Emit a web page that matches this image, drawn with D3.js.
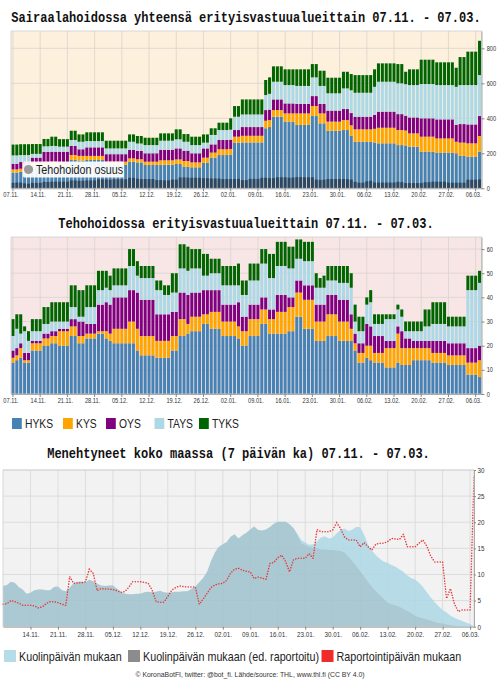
<!DOCTYPE html>
<html><head><meta charset="utf-8">
<script src="https://cdn.jsdelivr.net/npm/d3@7/dist/d3.min.js"></script>
<style>
html,body{margin:0;padding:0;background:#fff;}
svg{display:block;}
</style></head>
<body>
<svg id="chart" width="501" height="680"></svg>
<script>
// ---------------- data ----------------
const regions = ["HYKS","KYS","OYS","TAYS","TYKS"];
const regionColors = ["steelblue","orange","purple","lightblue","darkgreen"];

const hospHYKS = [90,90,95,95,95,125,125,125,130,130,
130,130,130,130,130,162,162,158,158,162,
162,162,162,162,135,135,135,135,135,135,
152,152,148,148,133,133,133,133,135,135,
135,135,139,139,124,124,120,120,120,146,
146,175,175,190,190,190,192,261,261,262,
262,262,262,262,262,343,350,409,409,409,
381,381,381,362,362,362,362,413,413,371,
371,329,329,329,329,333,333,300,266,266,
266,266,266,262,257,257,257,257,257,247,
247,245,238,238,238,209,209,209,209,204,
204,204,204,204,200,185,185,181,181,181,
209];
const hospKYS = [18,18,17,17,17,20,20,20,20,20,
22,22,20,20,20,28,28,27,27,23,
23,23,23,23,17,17,17,17,17,17,
19,19,18,18,19,19,19,19,25,25,
25,25,26,26,32,32,28,28,28,29,
29,29,29,33,33,33,33,34,34,38,
38,38,38,38,38,43,40,38,38,38,
47,47,47,66,66,66,66,57,57,57,
57,52,52,52,52,57,57,60,71,71,
71,71,71,78,89,89,89,89,89,86,
86,85,76,76,76,86,86,86,86,81,
81,81,81,81,66,76,76,76,76,76,
90];
const hospOYS = [32,32,38,38,38,30,30,30,58,58,
57,57,59,59,59,52,52,38,38,49,
49,49,49,49,43,43,43,43,43,43,
48,48,48,48,48,48,48,48,60,60,
60,60,63,63,59,59,52,52,52,53,
53,47,47,53,53,53,53,38,38,50,
50,50,50,50,50,61,60,61,61,61,
57,57,57,54,54,54,54,57,57,54,
54,63,63,63,63,63,63,70,72,72,
72,72,72,80,92,92,92,92,92,91,
91,85,91,91,91,105,105,105,105,109,
109,109,109,109,96,106,106,108,108,108,
114];
const hospTAYS = [48,48,40,40,40,22,22,22,32,32,
33,33,29,29,29,34,34,43,43,36,
36,36,36,36,33,33,33,33,33,33,
47,47,42,42,47,47,47,47,52,52,
52,52,52,52,51,51,47,47,47,33,
33,54,54,57,57,57,57,76,76,72,
72,72,72,72,72,86,90,101,101,101,
105,105,105,103,103,103,103,107,107,103,
103,99,99,99,99,118,118,130,137,137,
137,137,137,160,171,171,171,171,171,176,
176,180,185,185,185,196,196,196,196,196,
196,196,196,196,218,223,223,225,225,225,
234];
const hospTYKS = [62,62,62,62,62,56,56,56,42,42,
53,53,43,43,43,53,53,42,42,50,
50,50,50,50,44,44,44,44,44,44,
42,42,43,43,42,42,42,42,42,42,
42,42,57,57,44,44,48,48,48,47,
47,38,38,42,42,42,65,61,61,86,
86,86,86,86,86,86,94,88,88,88,
90,90,90,95,95,95,95,76,76,87,
87,89,89,89,89,95,95,93,101,101,
101,101,101,100,105,105,105,105,105,110,
110,71,90,90,90,139,139,139,139,130,
130,130,130,130,109,160,160,191,191,191,
196];

const icuHYKS = [13,14,15,13,13,18,18,18,20,20,
21,21,20,20,20,24,24,21,21,23,
23,23,25,25,23,22,21,21,21,21,
21,21,18,16,16,16,16,15,15,15,
15,18,18,24,24,25,26,26,26,29,
29,27,27,27,24,24,24,24,23,20,
20,24,24,24,29,29,25,25,25,25,
25,26,26,32,32,27,27,27,22,22,
22,24,24,24,22,22,22,22,18,13,
13,15,14,13,13,13,11,11,11,13,
12,12,12,14,14,14,14,14,13,13,
13,13,12,12,12,12,12,8,8,8,
7];
const icuKYS = [2,2,4,1,1,3,3,3,3,3,
3,3,6,6,6,4,4,3,3,2,
2,2,1,1,3,3,6,6,6,6,
9,9,9,8,8,8,8,7,7,7,
7,6,6,7,7,4,6,6,6,4,
4,7,7,7,6,6,6,6,5,6,
6,7,7,7,6,6,6,6,9,9,
9,10,10,10,10,12,12,12,8,8,
8,9,9,9,8,8,8,5,3,4,
4,5,6,4,4,4,8,8,8,12,
7,7,7,5,5,5,5,5,4,4,
4,4,4,4,4,4,4,5,5,5,
7];
const icuOYS = [3,3,2,3,3,1,1,1,2,2,
2,2,1,1,1,3,3,6,6,4,
4,4,11,11,12,12,13,13,13,13,
13,13,15,15,15,15,15,11,11,11,
11,10,10,11,11,12,10,10,10,10,
10,9,9,9,7,7,7,7,10,6,
6,6,6,6,5,5,4,4,7,7,
7,4,4,5,5,6,6,6,7,7,
7,8,8,8,9,9,9,6,4,4,
4,9,8,7,7,7,3,3,3,3,
7,4,4,3,3,3,3,3,5,5,
5,5,5,5,5,5,5,6,6,6,
6];
const icuTAYS = [6,8,4,9,5,4,4,4,4,4,
4,4,3,3,3,5,5,2,2,7,
7,7,6,6,6,6,5,5,5,5,
10,10,7,9,9,9,9,10,10,8,
8,8,8,10,10,10,10,10,10,6,
6,7,7,7,8,8,8,8,7,9,
9,10,10,10,14,14,13,13,12,12,
12,12,12,9,9,10,10,10,7,7,
7,6,6,6,7,7,7,11,5,5,
5,8,10,5,5,5,9,9,9,7,
6,3,3,4,4,4,6,6,7,7,
7,7,7,7,7,7,7,24,24,24,
26];
const icuTYKS = [7,6,8,2,4,5,5,5,7,7,
8,8,8,8,8,9,9,11,11,9,
9,9,8,8,7,6,7,7,7,7,
7,7,6,5,5,5,5,4,4,4,
4,8,8,10,10,10,8,8,8,9,
9,6,6,6,8,8,8,8,9,6,
6,7,7,7,6,6,10,10,10,10,
10,9,9,8,8,8,8,8,6,4,
5,6,6,6,7,7,7,6,7,6,
6,3,5,4,4,4,2,2,2,2,
3,4,4,4,4,4,7,7,9,9,
9,9,4,4,4,4,4,6,6,6,
5];

const deathsByDeathDate = [7.8,8.0,8.6,8.4,7.6,7.1,6.3,6.5,7.0,7.1,
7.1,7.0,7.0,7.6,7.7,7.0,6.8,7.5,8.3,8.6,
8.6,8.5,9.0,8.7,8.2,7.9,7.8,7.9,7.9,7.3,
6.7,6.3,6.2,6.2,6.3,6.3,6.6,6.7,6.6,6.7,
6.9,6.6,6.5,6.6,6.7,6.7,6.8,6.8,7.2,7.7,
8.5,9.3,10.5,12.6,14.2,15.3,15.8,16.2,17.2,17.7,
16.9,17.5,18.0,18.6,19.2,18.5,18.4,18.6,19.1,19.7,
20.1,20.1,20.1,19.6,18.9,17.8,16.6,16.1,15.7,15.8,
16.3,17.1,17.3,16.9,17.1,17.9,18.5,18.8,18.3,18.6,
19.1,19.1,17.6,15.8,14.6,13.7,13.0,12.5,12.2,11.8,
11.5,11.0,10.5,9.8,9.3,9.0,8.4,7.6,6.6,5.6,
4.7,3.9,3.2,2.7,2.1,1.7,1.4,1.1,0.8,0.5,
0.1];
const deathsPrevReported = [7.8,8.0,8.6,8.4,7.6,7.1,6.3,6.5,7.0,7.1,
7.1,7.0,7.0,7.6,7.7,7.0,6.8,7.5,8.3,8.6,
8.6,8.5,9.0,8.7,8.2,7.9,7.8,7.9,7.9,7.3,
6.7,6.3,6.2,6.2,6.3,6.3,6.6,6.7,6.6,6.7,
6.9,6.6,6.5,6.6,6.7,6.7,6.8,6.8,7.2,7.7,
8.5,9.3,10.5,12.6,14.2,15.3,15.8,16.2,17.2,17.7,
16.9,17.5,18.0,18.6,19.2,18.5,18.4,18.6,19.1,19.7,
20.1,20.1,20.1,19.6,18.9,17.5,16.0,15.6,15.3,15.1,
15.0,14.8,14.8,14.7,14.7,14.6,14.5,14.2,13.4,12.6,
11.6,10.6,9.6,8.6,7.6,6.8,6.0,5.3,4.6,4.3,
4.1,3.8,3.4,3.0,2.6,2.1,1.8,1.6,1.4,1.2,
0.9,0.7,0.6,0.4,0.3,0.2,0.1,0.05,0,0,
0];
const deathsByReportDate = [4.3,4.4,5.0,4.8,4.5,4.1,4.1,4.1,4.0,3.6,
3.8,4.4,4.8,4.8,4.6,4.3,4.1,9.6,8.3,8.4,
8.4,8.6,11.0,10.2,6.9,7.3,7.2,7.2,7.1,6.9,
6.6,6.7,7.5,8.6,8.6,8.6,8.5,8.3,7.0,4.8,
4.7,4.7,5.8,7.0,7.5,7.8,7.7,7.6,7.6,7.6,
4.3,5.3,6.4,7.5,8.0,8.2,8.3,8.9,10.3,11.0,
11.2,10.8,10.6,10.5,9.2,9.5,9.3,9.1,12.1,12.3,
13.2,13.7,12.5,10.5,12.8,13.1,13.1,13.1,14.0,13.1,
18.6,18.2,18.2,18.2,18.5,19.9,18.8,17.2,16.6,16.6,
16.6,15.3,16.1,15.3,14.7,15.8,16.0,16.0,16.3,16.9,
16.8,16.7,17.7,15.3,15.3,15.3,16.0,16.6,15.4,13.5,
12.4,12.4,12.4,5.4,7.3,4.4,2.9,3.2,3.2,3.2,
28.7];

const hospTicks = [0,200,400,600,800];
const icuTicks = [0,10,20,30,40,50,60];
const deathTicks = [0,5,10,15,20,25,30];
const titleHosp = "Sairaalahoidossa yhteensä erityisvastuualueittain 07.11. - 07.03.";
const titleIcu = "Tehohoidossa erityisvastuualueittain  07.11. - 07.03.";
const titleDeaths = "Menehtyneet koko maassa (7 päivän ka) 07.11. - 07.03.";
const icuShareLabel = "Tehohoidon osuus";
const deathLegend = ["Kuolinpäivän mukaan","Kuolinpäivän mukaan (ed. raportoitu)","Raportointipäivän mukaan"];
const deathColors = ["#add8e6","#8c8c8c","#ee2c2c"];
const footer = "© KoronaBotFI, twitter: @bot_fi. Lähde/source: THL, www.thl.fi (CC BY 4.0)";

// ---------------- drawing ----------------
const days = d3.timeDay.range(new Date(2021,10,7), new Date(2022,2,8));
const dayIdx = d3.range(days.length);
const fmt = d3.timeFormat("%d.%m.");
const K = 0.86;            // horizontal squeeze of the text seen in the picture
const SANS = "'Liberation Sans', Arial, sans-serif";
const MONO = "'Liberation Mono', 'Courier New', monospace";
const svg = d3.select("#chart");

function label(parent, x, y, s, size, o = {}) {
  return parent.append("text")
    .attr("transform", `translate(${x},${y}) scale(${K},1)`)
    .attr("text-anchor", o.anchor || "start")
    .style("font-family", o.family || SANS)
    .style("font-size", size + "px")
    .style("font-weight", o.weight || "normal")
    .attr("fill", o.fill || "#222")
    .text(s);
}
function styleAxis(ag, size, dx) {
  ag.select(".domain").attr("stroke", "#aaa");
  ag.selectAll(".tick line").attr("stroke", "#888");
  ag.selectAll(".tick text")
    .style("font-family", SANS).style("font-size", size + "px")
    .attr("fill", "#333")
    .attr("transform", `translate(${dx},0) scale(${K},1)`);
}

function barChart(cfg) {
  const { top, bottom, left, right, ymax, ticks, series, bg, overlay } = cfg;
  const g = svg.append("g");
  const x = d3.scaleBand().domain(dayIdx).range([left, right]).paddingInner(0.22).paddingOuter(0.11);
  const y = d3.scaleLinear().domain([0, ymax]).range([bottom, top]);
  const bw = x.bandwidth();
  const weekIdx = dayIdx.filter(i => i % 7 === 0);

  g.append("rect").attr("x", left).attr("y", top).attr("width", right - left)
    .attr("height", bottom - top).attr("fill", bg);
  g.selectAll("line.vg").data(weekIdx).join("line").attr("class", "vg")
    .attr("x1", i => x(i) + bw / 2).attr("x2", i => x(i) + bw / 2)
    .attr("y1", top).attr("y2", bottom).attr("stroke", "#d9d4cc").attr("stroke-width", 0.8);
  g.selectAll("line.hg").data(ticks).join("line").attr("class", "hg")
    .attr("x1", left).attr("x2", right).attr("y1", d => y(d)).attr("y2", d => y(d))
    .attr("stroke", "#d9d4cc").attr("stroke-width", 0.8);

  const rows = dayIdx.map(i => {
    const r = { i };
    regions.forEach((k, j) => r[k] = series[j][i]);
    return r;
  });
  const stacked = d3.stack().keys(regions)(rows);
  g.selectAll("g.layer").data(stacked).join("g").attr("class", "layer")
    .attr("fill", (d, j) => regionColors[j])
    .selectAll("rect").data(d => d).join("rect")
    .attr("x", d => x(d.data.i)).attr("width", bw)
    .attr("y", d => y(d[1])).attr("height", d => y(d[0]) - y(d[1]));

  if (overlay) {
    g.append("g").selectAll("rect").data(overlay).join("rect")
      .attr("x", (d, i) => x(i)).attr("width", bw)
      .attr("y", d => y(d)).attr("height", d => y(0) - y(d))
      .attr("fill", "#26374a").attr("opacity", 0.78);
  }

  g.append("rect").attr("x", left).attr("y", top).attr("width", right - left)
    .attr("height", bottom - top).attr("fill", "none").attr("stroke", "#d0d0d0").attr("stroke-width", 0.8);

  const ax = g.append("g").attr("transform", `translate(0,${bottom})`)
    .call(d3.axisBottom(x).tickValues(weekIdx).tickFormat(i => fmt(days[i]))
      .tickSize(3).tickSizeOuter(0).tickPadding(1.5));
  styleAxis(ax, 6.6, -2);
  const ay = g.append("g").attr("transform", `translate(${right},0)`)
    .call(d3.axisRight(y).tickValues(ticks).tickSize(3).tickSizeOuter(0).tickPadding(3));
  styleAxis(ay, 6.6, 0);
  return { g, x, y };
}

// ---- chart 1: hospital ----
label(svg, 246, 22, titleHosp, 14, { anchor: "middle", family: MONO, weight: "bold", fill: "#111" });
const icuTotal = dayIdx.map(i => icuHYKS[i] + icuKYS[i] + icuOYS[i] + icuTAYS[i] + icuTYKS[i]);
const c1 = barChart({
  top: 31, bottom: 188.3, left: 11, right: 481.5, ymax: 899, ticks: hospTicks,
  series: [hospHYKS, hospKYS, hospOYS, hospTAYS, hospTYKS], bg: "#fdf0dc", overlay: icuTotal
});
// icu share label
c1.g.append("rect").attr("x", 23).attr("y", 161.5).attr("width", 101).attr("height", 16)
  .attr("rx", 1.5).attr("fill", "#fff").attr("opacity", 0.92);
c1.g.append("circle").attr("cx", 28.5).attr("cy", 169.5).attr("r", 4.6).attr("fill", "#9a9a9a");
label(c1.g, 36, 174, icuShareLabel, 12.5, { fill: "#222" });

// ---- chart 2: ICU ----
label(svg, 246, 227.5, titleIcu, 14, { anchor: "middle", family: MONO, weight: "bold", fill: "#111" });
barChart({
  top: 237, bottom: 394, left: 11, right: 481.5, ymax: 65, ticks: icuTicks,
  series: [icuHYKS, icuKYS, icuOYS, icuTAYS, icuTYKS], bg: "#f8e6e6"
});
// legend
const legX = [12, 63, 106, 154.5, 199];
const lg = svg.append("g");
regions.forEach((r, j) => {
  lg.append("rect").attr("x", legX[j]).attr("y", 418).attr("width", 9.8).attr("height", 11)
    .attr("fill", regionColors[j]);
  label(lg, legX[j] + 13, 428, r, 12, { fill: "#222" });
});

// ---- chart 3: deaths ----
label(svg, 238.5, 457.5, titleDeaths, 14, { anchor: "middle", family: MONO, weight: "bold", fill: "#111" });
(function () {
  const top = 470, bottom = 626.7, left = 3, right = 474;
  const g = svg.append("g");
  const x = d3.scaleTime().domain([days[0], days[days.length - 1]]).range([left, right]);
  const y = d3.scaleLinear().domain([0, 30]).range([bottom, top]);
  const weekDays = days.filter((d, i) => i % 7 === 0 && i > 0);
  g.append("rect").attr("x", left).attr("y", top).attr("width", right - left)
    .attr("height", bottom - top).attr("fill", "#f2f2f2");
  g.selectAll("line.vg").data(weekDays).join("line")
    .attr("x1", d => x(d)).attr("x2", d => x(d)).attr("y1", top).attr("y2", bottom)
    .attr("stroke", "#dadada").attr("stroke-width", 0.9);
  g.selectAll("line.hg").data(deathTicks).join("line")
    .attr("x1", left).attr("x2", right).attr("y1", d => y(d)).attr("y2", d => y(d))
    .attr("stroke", "#dadada").attr("stroke-width", 0.9);

  const area = d3.area().x((d, i) => x(days[i])).y0(y(0)).y1(d => y(d));
  g.append("path").datum(deathsByDeathDate).attr("d", area)
    .attr("fill", deathColors[0]).attr("opacity", 0.85);
  g.append("path").datum(deathsPrevReported).attr("d", area)
    .attr("fill", "#7f7f7f").attr("opacity", 0.2);
  const line = d3.line().x((d, i) => x(days[i])).y(d => y(d));
  g.append("path").datum(deathsByReportDate).attr("d", line)
    .attr("fill", "none").attr("stroke", "#e8393c").attr("stroke-width", 1.5)
    .attr("stroke-dasharray", "0.1,2.6").attr("stroke-linecap", "round");

  g.append("rect").attr("x", left).attr("y", top).attr("width", right - left)
    .attr("height", bottom - top).attr("fill", "none").attr("stroke", "#d0d0d0").attr("stroke-width", 0.8);
  const ax = g.append("g").attr("transform", `translate(0,${bottom})`)
    .call(d3.axisBottom(x).tickValues(weekDays).tickFormat(fmt).tickSize(3).tickSizeOuter(0).tickPadding(2));
  styleAxis(ax, 7.3, 0);
  const ay = g.append("g").attr("transform", `translate(${right},0)`)
    .call(d3.axisRight(y).tickValues(deathTicks).tickSize(2).tickSizeOuter(0).tickPadding(2));
  styleAxis(ay, 7.3, 0);

  // legend
  const lx = [4, 128, 321.5];
  const fills = [deathColors[0], deathColors[1], deathColors[2]];
  deathLegend.forEach((t, j) => {
    g.append("rect").attr("x", lx[j]).attr("y", 650).attr("width", 12).attr("height", 12)
      .attr("fill", fills[j]).attr("opacity", j === 0 ? 0.9 : 1);
    label(g, lx[j] + 15, 661, t, 12.5, { fill: "#222" });
  });
  label(g, 250, 677, footer, 8, { anchor: "middle", fill: "#333" });
})();
</script>
</body></html>
